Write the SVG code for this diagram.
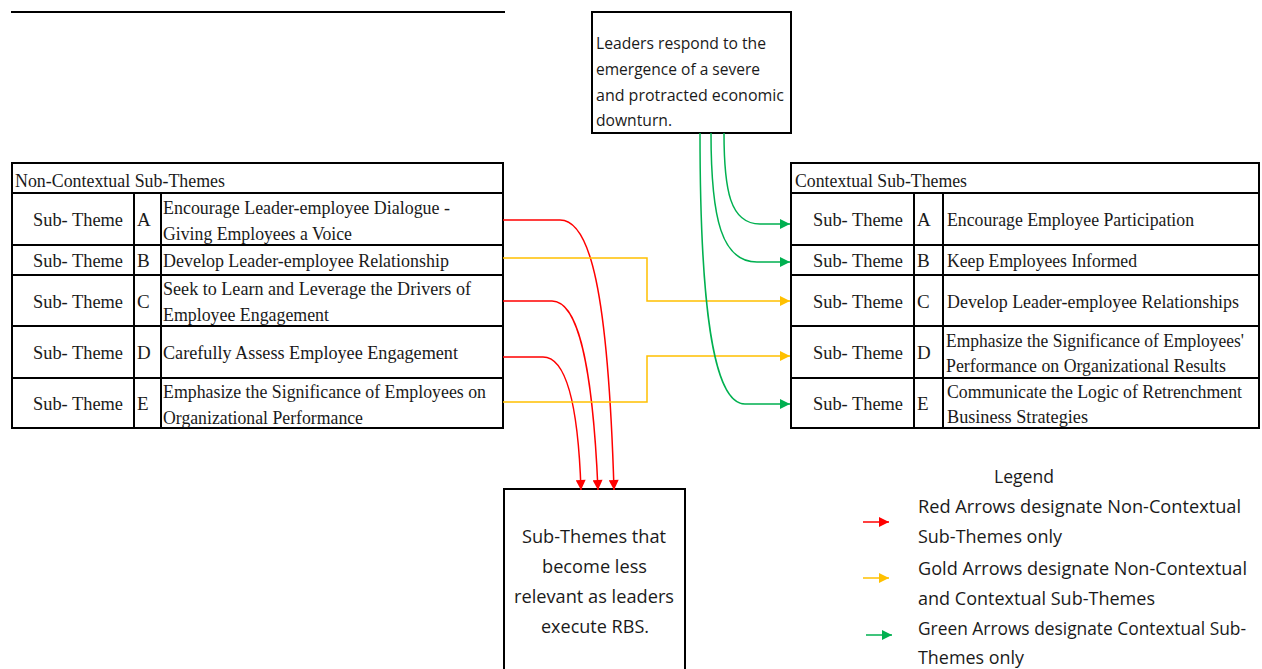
<svg xmlns="http://www.w3.org/2000/svg" width="1262" height="669" viewBox="0 0 1262 669">
<style>
.bg{fill:#fff}
.box{fill:#fff;stroke:#000;stroke-width:2}
.grid{stroke:#000;stroke-width:2;fill:none}
.ser{font-family:"Liberation Serif","Times New Roman",serif;font-size:19px;fill:#1a1a1a}
.san{font-family:"Open Sans","Liberation Sans",sans-serif;font-size:16px;fill:#1a1a1a}
.big{font-family:"Open Sans","Liberation Sans",sans-serif;font-size:19px;fill:#1a1a1a}
.red{stroke:#FF0000;stroke-width:1.5;fill:none}
.gold{stroke:#FFC000;stroke-width:1.5;fill:none}
.green{stroke:#00B050;stroke-width:1.5;fill:none}
</style>
<defs>
<marker id="ar" viewBox="0 0 10 10" refX="10" refY="5" markerWidth="11" markerHeight="10" markerUnits="userSpaceOnUse" orient="auto"><path d="M0,0 L10,5 L0,10 Z" fill="#FF0000"/></marker>
<marker id="ag" viewBox="0 0 10 10" refX="10" refY="5" markerWidth="11" markerHeight="10" markerUnits="userSpaceOnUse" orient="auto"><path d="M0,0 L10,5 L0,10 Z" fill="#FFC000"/></marker>
<marker id="agr" viewBox="0 0 10 10" refX="10" refY="5" markerWidth="11" markerHeight="10" markerUnits="userSpaceOnUse" orient="auto"><path d="M0,0 L10,5 L0,10 Z" fill="#00B050"/></marker>
</defs>
<rect class="bg" x="0" y="0" width="1262" height="669"/>
<line x1="11" y1="12" x2="505" y2="12" stroke="#000" stroke-width="2"/>

<g id="non-contextual-table">
<rect class="box" x="12" y="163" width="491" height="265"/>
<path class="grid" d="M12,193 H503 M12,245 H503 M12,275 H503 M12,326 H503 M12,378 H503 M134,193 V428 M161,193 V428"/>
<text class="ser" x="15" y="187" textLength="210" lengthAdjust="spacingAndGlyphs">Non-Contextual Sub-Themes</text>
<text class="ser" x="33" y="226" textLength="90" lengthAdjust="spacingAndGlyphs">Sub- Theme</text>
<text class="ser" x="137" y="226">A</text>
<text class="ser" x="163" y="214" textLength="287" lengthAdjust="spacingAndGlyphs">Encourage Leader-employee Dialogue -</text>
<text class="ser" x="163" y="240" textLength="189" lengthAdjust="spacingAndGlyphs">Giving Employees a Voice</text>
<text class="ser" x="33" y="267" textLength="90" lengthAdjust="spacingAndGlyphs">Sub- Theme</text>
<text class="ser" x="137" y="267">B</text>
<text class="ser" x="163" y="267" textLength="286" lengthAdjust="spacingAndGlyphs">Develop Leader-employee Relationship</text>
<text class="ser" x="33" y="308" textLength="90" lengthAdjust="spacingAndGlyphs">Sub- Theme</text>
<text class="ser" x="137" y="308">C</text>
<text class="ser" x="163" y="295" textLength="308" lengthAdjust="spacingAndGlyphs">Seek to Learn and Leverage the Drivers of</text>
<text class="ser" x="163" y="321" textLength="166" lengthAdjust="spacingAndGlyphs">Employee Engagement</text>
<text class="ser" x="33" y="359" textLength="90" lengthAdjust="spacingAndGlyphs">Sub- Theme</text>
<text class="ser" x="137" y="359">D</text>
<text class="ser" x="163" y="359" textLength="295" lengthAdjust="spacingAndGlyphs">Carefully Assess Employee Engagement</text>
<text class="ser" x="33" y="410" textLength="90" lengthAdjust="spacingAndGlyphs">Sub- Theme</text>
<text class="ser" x="137" y="410">E</text>
<text class="ser" x="163" y="398" textLength="323" lengthAdjust="spacingAndGlyphs">Emphasize the Significance of Employees on</text>
<text class="ser" x="163" y="424" textLength="200" lengthAdjust="spacingAndGlyphs">Organizational Performance</text>
</g>

<g id="contextual-table">
<rect class="box" x="791" y="163" width="468" height="265"/>
<path class="grid" d="M791,193 H1259 M791,245 H1259 M791,275 H1259 M791,326 H1259 M791,378 H1259 M914,193 V428 M943,193 V428"/>
<text class="ser" x="795" y="187" textLength="172" lengthAdjust="spacingAndGlyphs">Contextual Sub-Themes</text>
<text class="ser" x="813" y="226" textLength="90" lengthAdjust="spacingAndGlyphs">Sub- Theme</text>
<text class="ser" x="917" y="226">A</text>
<text class="ser" x="947" y="226" textLength="247" lengthAdjust="spacingAndGlyphs">Encourage Employee Participation</text>
<text class="ser" x="813" y="267" textLength="90" lengthAdjust="spacingAndGlyphs">Sub- Theme</text>
<text class="ser" x="917" y="267">B</text>
<text class="ser" x="947" y="267" textLength="190" lengthAdjust="spacingAndGlyphs">Keep Employees Informed</text>
<text class="ser" x="813" y="308" textLength="90" lengthAdjust="spacingAndGlyphs">Sub- Theme</text>
<text class="ser" x="917" y="308">C</text>
<text class="ser" x="947" y="308" textLength="292" lengthAdjust="spacingAndGlyphs">Develop Leader-employee Relationships</text>
<text class="ser" x="813" y="359" textLength="90" lengthAdjust="spacingAndGlyphs">Sub- Theme</text>
<text class="ser" x="917" y="359">D</text>
<text class="ser" x="946" y="347" font-size="18" textLength="298" lengthAdjust="spacingAndGlyphs">Emphasize the Significance of Employees'</text>
<text class="ser" x="946" y="372" textLength="280" lengthAdjust="spacingAndGlyphs">Performance on Organizational Results</text>
<text class="ser" x="813" y="410" textLength="90" lengthAdjust="spacingAndGlyphs">Sub- Theme</text>
<text class="ser" x="917" y="410">E</text>
<text class="ser" x="947" y="398" textLength="295" lengthAdjust="spacingAndGlyphs">Communicate the Logic of Retrenchment</text>
<text class="ser" x="947" y="423" textLength="141" lengthAdjust="spacingAndGlyphs">Business Strategies</text>
</g>

<g id="downturn-box">
<rect class="box" x="592" y="12" width="199" height="121"/>
<text class="san" x="596" y="49" textLength="170" lengthAdjust="spacingAndGlyphs">Leaders respond to the</text>
<text class="san" x="596" y="75" textLength="164" lengthAdjust="spacingAndGlyphs">emergence of a severe</text>
<text class="san" x="596" y="101" textLength="188" lengthAdjust="spacingAndGlyphs">and protracted economic</text>
<text class="san" x="596" y="126" textLength="76" lengthAdjust="spacingAndGlyphs">downturn.</text>
</g>

<g id="less-relevant-box">
<rect class="box" x="504" y="489" width="181" height="200"/>
<text class="big" x="522" y="543" textLength="144" lengthAdjust="spacingAndGlyphs">Sub-Themes that</text>
<text class="big" x="542" y="573" textLength="105" lengthAdjust="spacingAndGlyphs">become less</text>
<text class="big" x="514" y="603" textLength="160" lengthAdjust="spacingAndGlyphs">relevant as leaders</text>
<text class="big" x="541" y="633" textLength="108" lengthAdjust="spacingAndGlyphs">execute RBS.</text>
</g>

<g id="connectors">
<path class="red" d="M503,220 H560 C590,220 608,290 614,490" marker-end="url(#ar)"/>
<path class="red" d="M503,301 H552 C575,301 592,350 598,490" marker-end="url(#ar)"/>
<path class="red" d="M503,357 H543 C565,357 578,400 581,490" marker-end="url(#ar)"/>
<path class="gold" d="M503,258 H647 V301 H790" marker-end="url(#ag)"/>
<path class="gold" d="M503,402 H647 V356 H790" marker-end="url(#ag)"/>
<path class="green" d="M724,133 C724,190 730,224 760,224 H790" marker-end="url(#agr)"/>
<path class="green" d="M711,133 C711,220 722,262 757,262 H790" marker-end="url(#agr)"/>
<path class="green" d="M700,133 C700,300 712,404 745,404 H790" marker-end="url(#agr)"/>
</g>

<g id="legend">
<text class="big" x="994" y="483" textLength="60" lengthAdjust="spacingAndGlyphs">Legend</text>
<path class="red" d="M863,522 H889" marker-end="url(#ar)"/>
<text class="big" x="918" y="513" textLength="323" lengthAdjust="spacingAndGlyphs">Red Arrows designate Non-Contextual</text>
<text class="big" x="918" y="543" textLength="144" lengthAdjust="spacingAndGlyphs">Sub-Themes only</text>
<path class="gold" d="M863,578 H889" marker-end="url(#ag)"/>
<text class="big" x="918" y="575" textLength="329" lengthAdjust="spacingAndGlyphs">Gold Arrows designate Non-Contextual</text>
<text class="big" x="918" y="605" textLength="237" lengthAdjust="spacingAndGlyphs">and Contextual Sub-Themes</text>
<path class="green" d="M866,635 H892" marker-end="url(#agr)"/>
<text class="big" x="918" y="635" font-size="18" textLength="328" lengthAdjust="spacingAndGlyphs">Green Arrows designate Contextual Sub-</text>
<text class="big" x="918" y="664" textLength="106" lengthAdjust="spacingAndGlyphs">Themes only</text>
</g>
</svg>
